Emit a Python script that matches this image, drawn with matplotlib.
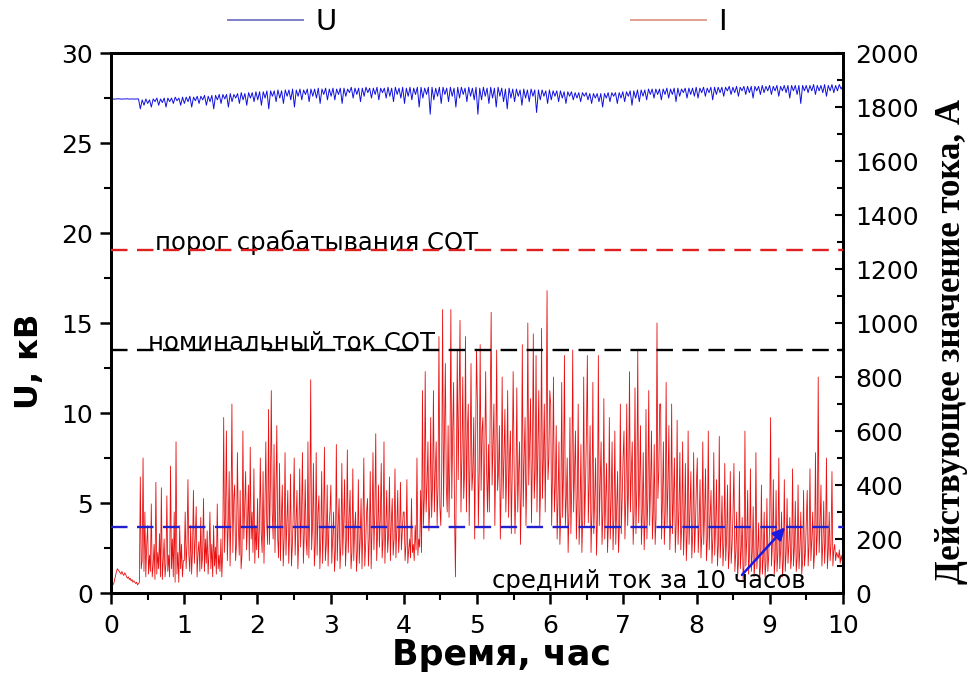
import matplotlib
matplotlib.use("Agg")
import matplotlib.pyplot as plt
import numpy as np
from matplotlib.ticker import MultipleLocator

# --- data ---
# current I, A (800 samples over 10 h, 40 per half hour)
current = [
    20, 25, 30, 35, 50, 65, 80, 90, 85, 80, 75, 70, 80, 70, 65, 75, 70, 60, 55, 60,
    50, 55, 45, 50, 40, 45, 40, 35, 40, 30, 35, 40, 430, 90, 120, 500, 80, 300, 60, 180,
    250, 70, 140, 80, 330, 60, 100, 180, 50, 410, 70, 150, 90, 220, 60, 390, 50, 120, 200, 60,
    110, 360, 80, 140, 60, 470, 90, 200, 60, 300, 40, 560, 70, 150, 40, 250, 90, 180, 60, 120,
    120, 300, 90, 180, 420, 140, 80, 250, 70, 160, 380, 110, 200, 320, 60, 150, 190, 80, 280, 90,
    140, 350, 80, 200, 110, 230, 70, 150, 300, 90, 180, 60, 250, 100, 170, 70, 330, 90, 140, 80,
    200, 60, 160, 650, 150, 300, 600, 120, 250, 450, 100, 300, 700, 150, 350, 400, 120, 180, 520, 250,
    140, 380, 90, 140, 600, 200, 320, 450, 160, 260, 400, 120, 540, 200, 300, 150, 460, 110, 250, 160,
    350, 130, 240, 500, 220, 150, 450, 110, 300, 560, 260, 180, 680, 180, 400, 750, 300, 200, 550, 150,
    350, 620, 200, 130, 480, 120, 280, 400, 100, 200, 520, 140, 260, 380, 110, 220, 440, 100, 180, 300,
    500, 140, 260, 380, 90, 200, 460, 170, 300, 520, 110, 220, 420, 200, 140, 560, 130, 300, 790, 160,
    250, 480, 100, 180, 520, 140, 300, 360, 90, 200, 450, 110, 260, 540, 120, 180, 400, 100, 250, 300,
    400, 110, 200, 300, 80, 160, 550, 120, 250, 350, 90, 180, 480, 140, 260, 420, 100, 200, 530, 150,
    280, 380, 90, 150, 460, 120, 240, 300, 80, 160, 420, 110, 200, 350, 90, 250, 500, 100, 180, 300,
    350, 100, 200, 450, 90, 250, 520, 160, 300, 590, 120, 220, 400, 170, 280, 480, 130, 200, 560, 110,
    250, 380, 150, 220, 430, 120, 260, 350, 140, 200, 460, 130, 240, 380, 150, 220, 410, 160, 230, 300,
    300, 120, 180, 420, 110, 160, 200, 130, 350, 150, 180, 120, 250, 160, 500, 140, 200, 170, 380, 150,
    750, 250, 350, 820, 300, 400, 560, 230, 320, 650, 280, 400, 750, 300, 450, 560, 250, 400, 950, 320,
    250, 450, 1050, 320, 600, 850, 400, 300, 620, 280, 500, 1050, 350, 600, 780, 300, 60, 450, 900, 420,
    700, 1010, 300, 500, 800, 350, 450, 950, 300, 600, 700, 250, 500, 850, 380, 450, 650, 200, 550, 900,
    700, 250, 450, 920, 380, 600, 650, 200, 500, 820, 450, 300, 550, 300, 700, 1040, 400, 550, 700, 250,
    500, 900, 380, 450, 620, 200, 400, 800, 350, 500, 680, 300, 450, 750, 280, 500, 600, 220, 450, 820,
    480, 220, 400, 760, 300, 450, 560, 180, 400, 920, 320, 500, 650, 250, 450, 1000, 400, 550, 720, 260,
    500, 960, 350, 450, 880, 300, 550, 750, 250, 400, 980, 350, 500, 700, 300, 600, 1120, 420, 500, 750,
    700, 250, 450, 800, 300, 400, 620, 200, 350, 560, 180, 300, 780, 280, 450, 880, 250, 350, 500, 150,
    300, 650, 220, 400, 900, 300, 450, 600, 200, 350, 700, 180, 300, 550, 150, 280, 800, 250, 400, 600,
    880, 260, 400, 620, 150, 300, 780, 220, 350, 500, 140, 280, 880, 250, 400, 560, 180, 300, 720, 200,
    350, 480, 150, 260, 650, 200, 350, 560, 160, 280, 600, 180, 320, 450, 150, 250, 700, 220, 350, 500,
    600, 200, 350, 700, 250, 400, 820, 300, 450, 560, 180, 300, 760, 220, 380, 900, 260, 400, 620, 180,
    300, 520, 160, 280, 680, 200, 350, 750, 250, 400, 600, 200, 300, 550, 180, 280, 1000, 350, 450, 700,
    700, 200, 350, 560, 180, 300, 780, 250, 400, 620, 160, 280, 700, 220, 350, 500, 150, 260, 640, 180,
    300, 520, 160, 250, 560, 140, 260, 480, 120, 220, 600, 180, 300, 450, 130, 220, 520, 150, 250, 400,
    500, 150, 250, 420, 130, 220, 560, 180, 300, 460, 120, 200, 600, 160, 280, 380, 110, 200, 520, 140,
    250, 420, 100, 180, 580, 130, 220, 360, 100, 180, 480, 120, 200, 400, 90, 160, 450, 110, 180, 300,
    480, 80, 150, 300, 60, 120, 450, 90, 160, 280, 50, 100, 600, 100, 200, 380, 70, 140, 460, 80,
    150, 320, 60, 120, 520, 90, 160, 260, 50, 100, 400, 70, 130, 300, 60, 110, 350, 80, 140, 250,
    650, 100, 180, 420, 70, 130, 380, 80, 150, 500, 90, 160, 300, 60, 120, 420, 80, 150, 350, 110,
    180, 280, 90, 140, 460, 100, 170, 340, 80, 130, 400, 90, 160, 300, 70, 120, 380, 100, 150, 260,
    380, 100, 180, 460, 120, 200, 300, 90, 150, 520, 140, 220, 800, 150, 250, 400, 100, 180, 340, 110,
    200, 500, 90, 160, 300, 120, 180, 450, 100, 160, 180, 120, 150, 140, 130, 160, 110, 140, 120, 150,
]

# voltage U, kV (400 samples over 10 h, 40 per hour)
voltage = [
    27.45, 27.45, 27.44, 27.45, 27.46, 27.45, 27.44, 27.45, 27.45, 27.46, 27.44, 27.45, 27.45, 27.44, 27.45, 27.45,
    26.9, 27.4, 27.1, 27.45, 27.2, 27.4, 27.0, 27.45, 27.3, 27.5, 27.1, 27.45, 27.25, 27.5, 27.0, 27.5,
    27.3, 27.5, 27.2, 27.55, 27.35, 27.5, 27.1, 27.55,
    27.2, 27.55, 27.3, 27.6, 27.0, 27.55, 27.35, 27.6, 27.2, 27.6, 27.4, 27.65, 27.1, 27.6, 27.3, 27.65, 26.9, 27.65, 27.4, 27.7,
    27.2, 27.7, 27.45, 27.7, 27.0, 27.75, 27.3, 27.7, 27.5, 27.75, 27.2, 27.8, 27.4, 27.75, 27.1, 27.8, 27.5, 27.8, 27.3, 27.85,
    27.4, 27.85, 27.1, 27.85, 27.5, 27.9, 26.9, 27.9, 27.6, 27.9, 27.3, 27.95, 27.5, 27.9, 27.2, 27.95, 27.6, 27.95, 27.4, 28.0,
    27.0, 27.95, 27.6, 28.0, 27.4, 27.95, 27.7, 28.0, 27.3, 28.0, 27.6, 28.0, 27.5, 28.05, 27.2, 28.0, 27.7, 28.05, 27.4, 28.0,
    27.6, 28.05, 27.4, 28.0, 27.7, 28.05, 27.2, 28.05, 27.6, 28.0, 27.8, 28.1, 27.5, 28.05, 27.7, 28.05, 27.3, 28.05, 27.6, 28.1,
    27.8, 28.05, 27.5, 28.05, 27.7, 28.1, 27.4, 28.05, 27.8, 28.05, 27.5, 28.1, 27.6, 28.05, 27.3, 28.1, 27.7, 28.05, 27.5, 28.1,
    27.2, 28.05, 27.6, 28.1, 27.4, 28.05, 27.7, 28.1, 27.0, 28.1, 27.5, 28.05, 27.7, 28.1, 26.6, 28.1, 27.4, 28.05, 27.6, 28.1,
    27.2, 28.1, 27.7, 28.05, 27.3, 28.1, 27.6, 28.05, 27.0, 28.1, 27.5, 28.1, 27.7, 28.05, 27.3, 28.1, 27.6, 28.05, 27.4, 28.1,
    26.6, 28.05, 27.4, 28.1, 27.6, 28.05, 27.2, 28.1, 27.5, 28.05, 27.0, 28.1, 27.6, 28.05, 27.3, 28.0, 26.9, 28.05, 27.5, 28.0,
    27.3, 28.0, 27.6, 27.95, 27.1, 28.0, 27.5, 27.95, 27.3, 28.0, 27.6, 27.95, 26.7, 27.95, 27.4, 27.95, 27.6, 27.9, 27.2, 27.95,
    27.4, 27.9, 27.6, 27.9, 27.3, 27.9, 27.5, 27.85, 27.2, 27.85, 27.6, 27.85, 27.4, 27.8, 27.5, 27.8, 27.3, 27.8, 27.6, 27.8,
    27.4, 27.75, 27.2, 27.75, 27.5, 27.75, 27.3, 27.75, 27.0, 27.75, 27.5, 27.8, 27.3, 27.8, 27.6, 27.8, 27.2, 27.8, 27.5, 27.85,
    27.3, 27.85, 27.6, 27.9, 27.1, 27.9, 27.5, 27.95, 27.3, 27.95, 27.6, 27.95, 27.4, 28.0, 27.7, 28.0, 27.5, 28.0, 27.7, 28.0,
    27.4, 28.0, 27.7, 28.05, 27.5, 28.0, 27.7, 28.05, 27.3, 28.05, 27.6, 28.0, 27.8, 28.05, 27.5, 28.05, 27.7, 28.05, 27.6, 28.1,
    27.5, 28.05, 27.8, 28.1, 27.6, 28.05, 27.8, 28.1, 27.4, 28.1, 27.7, 28.1, 27.8, 28.1, 27.6, 28.1, 27.9, 28.15, 27.7, 28.1,
    27.8, 28.15, 27.6, 28.1, 27.9, 28.15, 27.7, 28.15, 27.8, 28.15, 27.5, 28.15, 27.9, 28.15, 27.7, 28.2, 27.8, 28.15, 27.9, 28.2,
    27.7, 28.15, 27.9, 28.2, 27.6, 28.15, 27.9, 28.2, 27.8, 28.2, 27.5, 28.2, 27.9, 28.2, 27.7, 28.2, 27.2, 28.2, 27.9, 28.2,
    27.8, 28.2, 27.9, 28.25, 27.7, 28.2, 27.9, 28.2, 27.8, 28.25, 27.6, 28.2, 27.9, 28.25, 27.8, 28.2, 27.9, 28.25, 28.0, 28.2,
]

threshold_cot = 1270   # A, порог срабатывания СОТ
nominal_cot = 900      # A, номинальный ток СОТ
mean_current = 243     # A, средний ток за 10 часов

t_i = np.linspace(0, 10, len(current))
t_u = np.linspace(0, 10, len(voltage))

plt.rcParams['font.family'] = ['DejaVu Sans']

fig = plt.figure(figsize=(9.77, 6.98), dpi=100)
ax = fig.add_axes([0.1136, 0.1504, 0.7492, 0.7736])
ax2 = ax.twinx()

lu, = ax.plot(t_u, voltage, color='#1010e0', lw=0.7, label='U')
li, = ax2.plot(t_i, current, color='#e81010', lw=0.6, label='I')

dash = (7, 4)
ax2.axhline(threshold_cot, color='#e02020', lw=1.7, dashes=dash, zorder=5)
ax2.axhline(nominal_cot, color='black', lw=1.7, dashes=dash, zorder=5)
ax2.axhline(mean_current, color='#2020d0', lw=1.7, dashes=dash, zorder=5)

ax.set_xlim(0, 10)
ax.set_ylim(0, 30)
ax2.set_ylim(0, 2000)

ax.xaxis.set_major_locator(MultipleLocator(1))
ax.xaxis.set_minor_locator(MultipleLocator(0.5))
ax.yaxis.set_major_locator(MultipleLocator(5))
ax.yaxis.set_minor_locator(MultipleLocator(2.5))
ax2.yaxis.set_major_locator(MultipleLocator(200))
ax2.yaxis.set_minor_locator(MultipleLocator(100))

ax.tick_params(axis='both', which='major', labelsize=18, length=8, width=1.8, direction='out')
ax.tick_params(axis='y', which='major', pad=5)
ax.tick_params(axis='x', which='major', pad=7)
ax.tick_params(axis='both', which='minor', length=5, width=1.5, direction='out')
ax2.tick_params(axis='y', which='major', labelsize=18, length=6, width=1.5, direction='in', pad=9)
ax2.tick_params(axis='y', which='minor', length=4, width=1.5, direction='in')

for a in (ax, ax2):
    for s in a.spines.values():
        s.set_linewidth(2)

ax.set_xlabel('Время, час', fontsize=25, fontweight='bold')
ax.xaxis.set_label_coords(0.533, -0.083)
ax.set_ylabel('U, кВ', fontsize=23, fontweight='bold')
ax.yaxis.set_label_coords(-0.09, 0.43)
ax2.set_ylabel('Действующее значение тока, А', fontsize=25, fontweight='bold',
               family='Liberation Serif')
ax2.yaxis.set_label_coords(1.126, 0.465)

ax2.text(0.6, threshold_cot, 'порог срабатывания СОТ', fontsize=17.5, ha='left', va='baseline')
ax2.text(0.5, nominal_cot, 'номинальный ток СОТ', fontsize=17.5, ha='left', va='baseline')
ax2.text(5.2, 20, 'средний ток за 10 часов', fontsize=17.5, ha='left', va='baseline')
ax2.annotate('', xy=(9.21, mean_current), xytext=(8.62, 67),
             arrowprops=dict(arrowstyle='-|>', color='#1a1ae0', lw=1.8, mutation_scale=18,
                             shrinkA=0, shrinkB=0))

leg = ax.legend([lu, li], ['U', 'I'], loc='center left', bbox_to_anchor=(0.16, 1.057),
                ncol=2, frameon=False, fontsize=21, handlelength=2.57, handletextpad=0.41,
                columnspacing=10.1, borderpad=0, borderaxespad=0)
for h, c in zip(leg.get_lines(), ['#7f7fc8', '#e0a090']):
    h.set_linewidth(1.4)
    h.set_color(c)

fig.savefig('out.png', dpi=100)
